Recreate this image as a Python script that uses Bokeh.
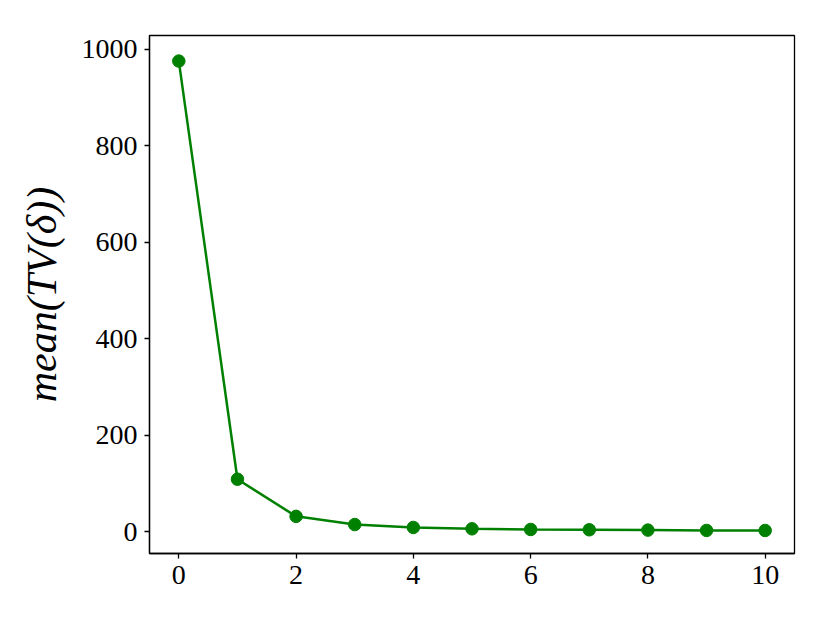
from bokeh.plotting import figure
from bokeh.models import Range1d, FixedTicker
from bokeh.embed import file_html
from bokeh.resources import INLINE

steps = [0, 1, 2, 3, 4, 5, 6, 7, 8, 9, 10]
mean_tv = [976, 109, 32, 15, 9, 6.2, 4.8, 4.2, 3.5, 2.8, 2.7]
x_ticks = [0, 2, 4, 6, 8, 10]
y_ticks = [0, 200, 400, 600, 800, 1000]

FONT = "Liberation Serif"

p = figure(width=814, height=607, output_backend="svg", toolbar_location=None,
           x_range=Range1d(-0.5, 10.5), y_range=Range1d(-45, 1029))
p.min_border_left = 149
p.min_border_right = 20
p.min_border_top = 35
p.min_border_bottom = 54

p.line(steps, mean_tv, line_color="#008000", line_width=2.5)
p.scatter(steps, mean_tv, size=12.5, fill_color="#008000", line_color="#008000")

p.xgrid.visible = False
p.ygrid.visible = False
p.outline_line_color = "black"
p.outline_line_width = 1.3

for ax in (p.xaxis[0], p.yaxis[0]):
    ax.major_label_text_font = FONT
    ax.major_label_text_font_size = "28px"
    ax.major_label_text_color = "black"
    ax.axis_line_color = "black"
    ax.axis_line_width = 1.3
    ax.major_tick_line_color = "black"
    ax.major_tick_line_width = 1.3
    ax.major_tick_out = 5
    ax.major_tick_in = 0
    ax.minor_tick_line_color = None

p.xaxis.ticker = FixedTicker(ticks=x_ticks)
p.yaxis.ticker = FixedTicker(ticks=y_ticks)
p.xaxis.major_label_standoff = 7
p.yaxis.major_label_standoff = 7

p.yaxis.axis_label = "mean(TV(δ))"
p.yaxis.axis_label_text_font = FONT
p.yaxis.axis_label_text_font_style = "italic"
p.yaxis.axis_label_text_font_size = "42px"
p.yaxis.axis_label_text_color = "black"
p.yaxis.axis_label_standoff = 14

open("out.html", "w").write(file_html(p, INLINE))
